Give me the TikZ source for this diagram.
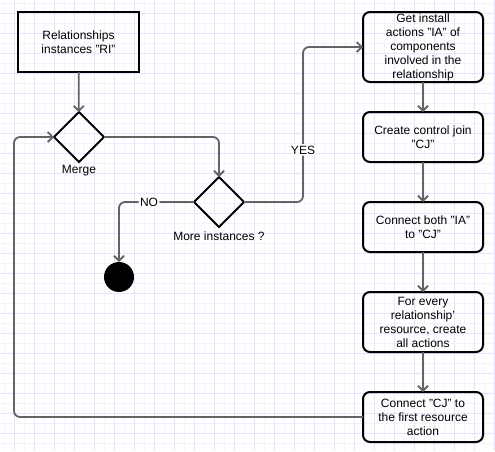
\documentclass[tikz,border=0pt]{standalone}
\usepackage{fontspec}
\setmainfont{Liberation Sans}
\usetikzlibrary{shapes.geometric,arrows.meta}
\definecolor{gridminor}{RGB}{243,243,255}
\definecolor{gridmajor}{RGB}{228,228,254}
\definecolor{edgegray}{RGB}{100,100,100}
\begin{document}
\begin{tikzpicture}[x=1pt,y=-1pt,
  font=\fontsize{12}{14}\selectfont,
  every node/.style={inner sep=0pt,outer sep=0pt},
  proc/.style={draw=black,line width=2pt,rounded corners=7pt,minimum width=120pt,align=center},
  startbox/.style={draw=black,line width=2pt,minimum width=121pt,minimum height=60pt,align=center},
  decision/.style={diamond,draw=black,line width=2pt,minimum width=50pt,minimum height=50pt},
  finalnode/.style={circle,fill=black,minimum size=30pt},
  conn/.style={draw=edgegray,line width=1.8pt,rounded corners=6pt,-{Straight Barb[length=5pt,width=10pt]}},
  lbl/.style={fill=white,inner sep=1.5pt,align=center}]
\useasboundingbox (0,0) rectangle (495,451);
\fill[white] (0,0) rectangle (495,451);
% grid
\foreach \x in {4,24,...,494} \draw[gridminor,line width=1pt] (\x,0) -- (\x,451);
\foreach \y in {3,23,...,443} \draw[gridminor,line width=1pt] (0,\y) -- (495,\y);
\foreach \x in {14,34,...,494} \draw[gridmajor,line width=1pt] (\x,0) -- (\x,451);
\foreach \y in {13,33,...,443} \draw[gridmajor,line width=1pt] (0,\y) -- (495,\y);

\node[startbox] (start) at (78.5,42) {Relationships\\instances "RI"};
\node[decision] (merge) at (79,137) {};
\node (mergelbl) at (79,171) {Merge};
\node[decision] (more) at (219,202) {};
\node (morelbl) at (219,236) {More instances ?};
\node[finalnode] (final) at (119,277) {};

\node[proc,minimum height=70pt] (b1) at (423,47) {Get install\\actions "IA" of\\components\\involved in the\\relationship};
\node[proc,minimum height=50pt] (b2) at (423,137) {Create control join\\"CJ"};
\node[proc,minimum height=50pt] (b3) at (423,227) {Connect both "IA"\\to "CJ"};
\node[proc,minimum height=60pt] (b4) at (423,322) {For every\\relationship'\\resource, create\\all actions};
\node[proc,minimum height=50pt] (b5) at (423,417) {Connect "CJ" to\\the first resource\\action};

\coordinate (yesbend) at (303,47);
\coordinate (loopbend) at (14,417);

\draw[conn] (start) -- (merge);
\draw[conn] (merge.east) -| (more.north);
\draw[conn] (more.west) -| (final.north) node[lbl,pos=0.3] (nolbl) {NO};
\draw[conn] (more.east) -| (yesbend) node[lbl,pos=0.668] (yeslbl) {YES} -- (b1.west);
\draw[conn] (b1) -- (b2);
\draw[conn] (b2) -- (b3);
\draw[conn] (b3) -- (b4);
\draw[conn] (b4) -- (b5);
\draw[conn] (b5.west) -- (loopbend) |- (merge.west);
\end{tikzpicture}
\end{document}
